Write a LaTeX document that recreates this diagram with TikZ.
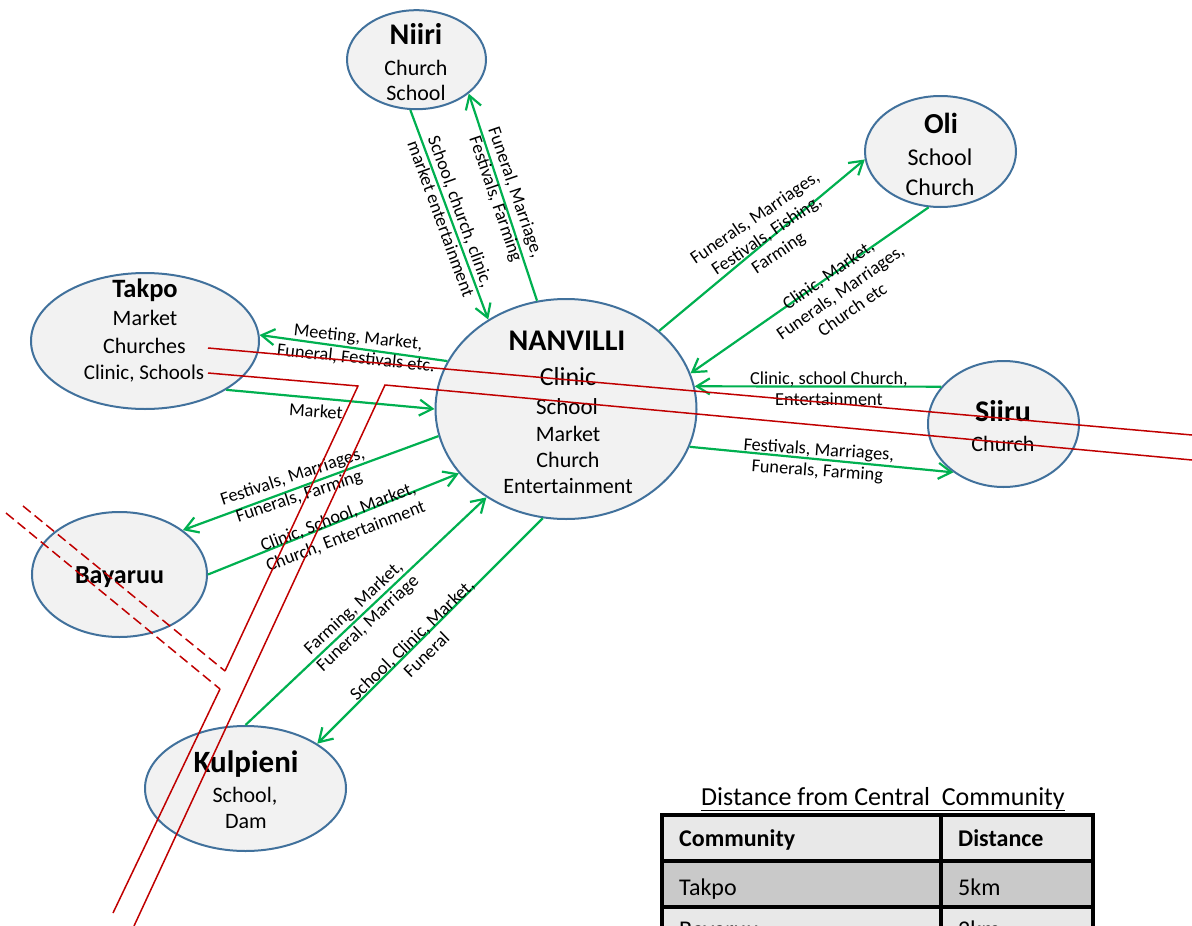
\documentclass[tikz,border=0pt]{standalone}
\usepackage{fontspec}
\setmainfont{Carlito}
\usetikzlibrary{shapes.geometric,arrows.meta}
\definecolor{flowgreen}{HTML}{00B050}
\definecolor{roadred}{HTML}{C00000}
\definecolor{placeedge}{HTML}{41719C}
\definecolor{placefill}{HTML}{F2F2F2}
\definecolor{headfill}{HTML}{E8E8E8}
\definecolor{rowfill}{HTML}{C9C9C9}
\begin{document}
\begin{tikzpicture}[x=1pt,y=-1pt,
  place/.style={ellipse,draw=placeedge,fill=placefill,line width=2pt,inner sep=0pt},
  pname/.style={anchor=base,inner sep=0pt,font=\bfseries\fontsize{#1}{#1}\selectfont},
  pline/.style={anchor=base,inner sep=0pt,font=\fontsize{#1}{#1}\selectfont},
  flow/.style={draw=flowgreen,line width=2.2pt,-{Straight Barb[length=13pt,width=16pt]}},
  flowlabel/.style={align=center,inner sep=0pt,font=\fontsize{18.3}{21}\selectfont},
  road/.style={draw=roadred,line width=1.5pt},
  lane/.style={road,dash pattern=on 10pt off 5pt},
  cell/.style={anchor=base west,inner sep=0pt,font=\fontsize{24}{24}\selectfont},
  grid/.style={line width=3.5pt},
]
\path[use as bounding box] (0,0) rectangle (1192,926);
\clip (0,0) rectangle (1192,926);

% communities
\node[place,minimum width=139pt,minimum height=99pt] (niiri) at (416.5,59.7) {};
\node[place,minimum width=151pt,minimum height=111pt] (oli) at (940.5,151.5) {};
\node[place,minimum width=228pt,minimum height=136pt] (takpo) at (145,341) {};
\node[place,minimum width=261pt,minimum height=220pt] (nanvilli) at (566,409) {};
\node[place,minimum width=151pt,minimum height=126pt] (siiru) at (1003.5,424) {};
\node[place,minimum width=175pt,minimum height=125pt] (bayaruu) at (119.5,574.5) {};
\node[place,minimum width=201pt,minimum height=125pt] (kulpieni) at (245.5,788.5) {};

% community names and services
\node[pname=30] (niiri-n) at (416,45) {Niiri};
\node[pline=22] (niiri-a) at (416,75) {Church};
\node[pline=22] (niiri-b) at (416,100) {School};

\node[pname=29] (oli-n) at (941,133) {Oli};
\node[pline=24] (oli-a) at (940,165) {School};
\node[pline=24] (oli-b) at (940,195) {Church};

\node[pname=26.5] (takpo-n) at (145,297) {Takpo};
\node[pline=22] (takpo-a) at (145,325) {Market};
\node[pline=22] (takpo-b) at (144.5,353) {Churches};
\node[pline=21] (takpo-c) at (144,379) {Clinic, Schools};

\node[pname=30] (nanvilli-n) at (567,350) {NANVILLI};
\node[pline=26] (nanvilli-a) at (568,385) {Clinic};
\node[pline=23] (nanvilli-b) at (567,414) {School};
\node[pline=22] (nanvilli-c) at (568,441) {Market};
\node[pline=22] (nanvilli-d) at (568,467) {Church};
\node[pline=22] (nanvilli-e) at (568,493) {Entertainment};

\node[pname=30] (siiru-n) at (1003,421) {Siiru};
\node[pline=22] (siiru-a) at (1003,451) {Church};

\node[pname=26] (bayaruu-n) at (119.5,583) {Bayaruu};

\node[pname=31] (kulpieni-n) at (246,772) {Kulpieni};
\node[pline=22] (kulpieni-a) at (245,802) {School,};
\node[pline=22] (kulpieni-b) at (246,828) {Dam};

% flows between the communities
\draw[flow] (niiri.-97) -- (nanvilli.131);
\draw[flow] (nanvilli.105) -- (niiri.-33);
\draw[flow] (nanvilli.40) -- (oli.186);
\draw[flow] (oli.258) -- (nanvilli.16);
\draw[flow] (nanvilli.158) -- (takpo.3);
\draw[flow] (takpo.-31) -- (nanvilli.180);
\draw[flow] (nanvilli.192) -- (bayaruu.35);
\draw[flow] (bayaruu.0) -- (nanvilli.211);
\draw[flow] (kulpieni.90) -- (nanvilli.228);
\draw[flow] (nanvilli.258) -- (kulpieni.32);
\draw[flow] (siiru.149) -- (nanvilli.10);
\draw[flow] (nanvilli.-17) -- (siiru.224);

% flow labels
\node[flowlabel,rotate=-70] (l-niiri-in) at (451,215) {School, church, clinic,\\market entertainment};
\node[flowlabel,rotate=-71] (l-niiri-out) at (505,196) {Funeral, Marriage,\\Festivals, Farming};
\node[flowlabel,rotate=34] (l-oli-out) at (767,236) {Funerals, Marriages,\\Festivals, Fishing,\\Farming};
\node[flowlabel,rotate=35] (l-oli-in) at (840,292) {Clinic, Market,\\Funerals, Marriages,\\Church etc};
\node[flowlabel,rotate=-6] (l-takpo-out) at (357,348) {Meeting, Market,\\Funeral, Festivals etc.};
\node[flowlabel,rotate=-4] (l-takpo-in) at (316,411) {Market};
\node[flowlabel,rotate=18.5] (l-bay-out) at (296,487) {Festivals, Marriages,\\Funerals, Farming};
\node[flowlabel,rotate=21] (l-bay-in) at (342,527) {Clinic, School, Market,\\Church, Entertainment};
\node[flowlabel,rotate=43] (l-kul-in) at (361,616) {Farming, Market,\\Funeral, Marriage};
\node[flowlabel,rotate=44] (l-kul-out) at (419,647) {School, Clinic, Market,\\Funeral};
\node[flowlabel] (l-siiru-in) at (829,389) {Clinic, school Church,\\Entertainment};
\node[flowlabel,rotate=-4] (l-siiru-out) at (818,461) {Festivals, Marriages,\\Funerals, Farming};

% roads
\draw[road] (208,348) -- (1192,435);
\draw[road] (208,373) -- (358,386) -- (225,671);
\draw[road] (1192,460) -- (385,385) -- (134,926);
\draw[road] (220,689) -- (113,913);
\draw[lane] (23,506) -- (225,671);
\draw[lane] (6,513) -- (220,689);

% distance table
\node[anchor=base,inner sep=0pt,font=\fontsize{26}{26}\selectfont] (table-title) at (883,805) {\underline{Distance from Central\ \ Community}};
\fill[headfill] (662,815) rectangle (1093,861);
\fill[rowfill] (662,861) rectangle (1093,907);
\fill[headfill] (662,907) rectangle (1093,960);
\draw[grid] (662,815) rectangle (1093,960);
\draw[grid] (941,815) -- (941,960);
\draw[grid] (662,861) -- (1093,861);
\draw[grid] (662,907) -- (1093,907);
\node[cell,font=\bfseries\fontsize{24}{24}\selectfont] (h-community) at (679,846) {Community};
\node[cell,font=\bfseries\fontsize{24}{24}\selectfont] (h-distance) at (958,846) {Distance};
\node[cell] (c-takpo) at (679,895) {Takpo};
\node[cell] (d-takpo) at (958,895) {5km};
\node[cell] (c-bayaruu) at (679,937) {Bayaruu};
\node[cell] (d-bayaruu) at (958,937) {2km};
\end{tikzpicture}
\end{document}
